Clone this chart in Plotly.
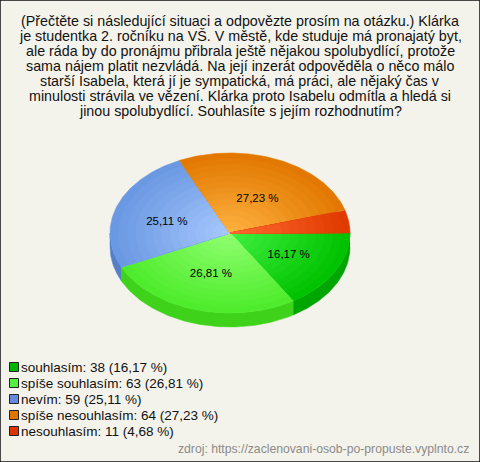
import numpy as np
import plotly.graph_objects as go

# ---- data ----
categories = ["souhlasím", "spíše souhlasím", "nevím", "spíše nesouhlasím", "nesouhlasím"]
counts = [38, 63, 59, 64, 11]
edge_colors = ["#00c200", "#4eec2c", "#6a98e2", "#e27800", "#e03a00"]
center_colors = ["#44f244", "#94ff74", "#aacaff", "#ffb444", "#ff6c34"]
side_colors = ["#00a600", "#3ed21a", "#5580c8", "#c86800", "#c03000"]
legend_colors = ["#00b400", "#55ee44", "#6688dd", "#dd7700", "#dd3300"]
title_lines = [
    "(Přečtěte si následující situaci a odpovězte prosím na otázku.) Klárka",
    "je studentka 2. ročníku na VŠ. V městě, kde studuje má pronajatý byt,",
    "ale ráda by do pronájmu přibrala ještě nějakou spolubydlící, protože",
    "sama nájem platit nezvládá. Na její inzerát odpověděla o něco málo",
    "starší Isabela, která jí je sympatická, má práci, ale nějaký čas v",
    "minulosti strávila ve vězení. Klárka proto Isabelu odmítla a hledá si",
    "jinou spolubydlící. Souhlasíte s jejím rozhodnutím?",
]
source_text = "zdroj: https://zaclenovani-osob-po-propuste.vyplnto.cz"

# ---- geometry (pixel-space axes) ----
W, H = 480, 462
cx, cy, rx, ry, depth = 230, 233, 120, 80, 14
FONT = "Liberation Sans, Arial, sans-serif"

total = sum(counts)
pcts = [c / total * 100 for c in counts]
fmt = lambda p: f"{p:.2f}".replace(".", ",") + " %"


def hex2rgb(h):
    h = h.lstrip("#")
    return np.array([int(h[i:i + 2], 16) for i in (0, 2, 4)], dtype=float)


def lerp(c1, c2, f):
    c = hex2rgb(c1) * (1 - f) + hex2rgb(c2) * f
    return "rgb({},{},{})".format(*[int(round(v)) for v in c])


fig = go.Figure()

starts = np.cumsum([0] + pcts[:-1]) / 100 * 2 * np.pi
ends = np.cumsum(pcts) / 100 * 2 * np.pi

# side walls (visible front half: angles 0..pi, screen-downward)
for a0, a1, col in zip(starts, ends, side_colors):
    s0, s1 = max(a0, 0), min(a1, np.pi)
    if s1 <= s0:
        continue
    t = np.linspace(s0, s1, 80)
    xs = np.concatenate([cx + rx * np.cos(t), (cx + rx * np.cos(t))[::-1]])
    ys = np.concatenate([cy + ry * np.sin(t), (cy + depth + ry * np.sin(t))[::-1]])
    fig.add_trace(go.Scatter(x=xs, y=ys, fill="toself", fillcolor=col, mode="lines",
                             line=dict(width=0.5, color=col), hoverinfo="skip", showlegend=False))

# top faces with radial shading (nested scaled sectors)
n_layers = 14
for a0, a1, ec, cc in zip(starts, ends, edge_colors, center_colors):
    t = np.linspace(a0, a1, 120)
    for k in range(n_layers):
        s = 1 - k / n_layers
        col = lerp(ec, cc, 1 - s)
        xs = np.concatenate([[cx], cx + s * rx * np.cos(t), [cx]])
        ys = np.concatenate([[cy], cy + s * ry * np.sin(t), [cy]])
        fig.add_trace(go.Scatter(x=xs, y=ys, fill="toself", fillcolor=col, mode="lines",
                                 line=dict(width=0.6, color=col), hoverinfo="skip",
                                 showlegend=False))

# slice labels
mids = (starts + ends) / 2
fig.add_trace(go.Scatter(
    x=cx + rx * 0.56 * np.cos(mids), y=cy + 3 + ry * 0.5 * np.sin(mids),
    mode="text", text=[fmt(p) for p in pcts[:4]] + [""],
    textfont=dict(family=FONT, size=11.5, color="#000"), hoverinfo="skip", showlegend=False))

# legend squares
leg_y0, leg_dy = 367, 16
leg_y = [leg_y0 + i * leg_dy for i in range(len(categories))]
fig.add_trace(go.Scatter(x=[14] * len(categories), y=leg_y, mode="markers",
                         marker=dict(symbol="square", size=9, color=legend_colors,
                                     line=dict(width=1, color="#222")),
                         hoverinfo="skip", showlegend=False))
annotations = []
for cat, c, p, y in zip(categories, counts, pcts, leg_y):
    annotations.append(dict(x=19, y=y, xref="x", yref="y", xanchor="left", yanchor="middle",
                            text=f"{cat}: {c} ({fmt(p)})", showarrow=False,
                            font=dict(family=FONT, size=13.5, color="#111")))

# title lines
for i, line in enumerate(title_lines):
    annotations.append(dict(x=240, y=21 + i * 15, xref="x", yref="y", xanchor="center",
                            yanchor="middle", text=line, showarrow=False,
                            font=dict(family=FONT, size=14.3, color="#111")))

annotations.append(dict(x=471, y=449, xref="x", yref="y", xanchor="right", yanchor="middle",
                        text=source_text, showarrow=False,
                        font=dict(family=FONT, size=12.2, color="#8a8a8a")))

fig.update_layout(
    width=W, height=H, margin=dict(l=0, r=0, t=0, b=0),
    paper_bgcolor="#f4f3eb", plot_bgcolor="#f4f3eb",
    xaxis=dict(range=[0, W], visible=False, fixedrange=True),
    yaxis=dict(range=[H, 0], visible=False, fixedrange=True),
    annotations=annotations,
    shapes=[dict(type="rect", xref="paper", yref="paper", x0=0, y0=0, x1=1, y1=1,
                 line=dict(color="#111", width=1.5))],
    showlegend=False,
)

fig.write_html("out.html", config={"displayModeBar": False},
               post_script="document.body.style.margin='0';document.body.style.overflow='hidden';")
